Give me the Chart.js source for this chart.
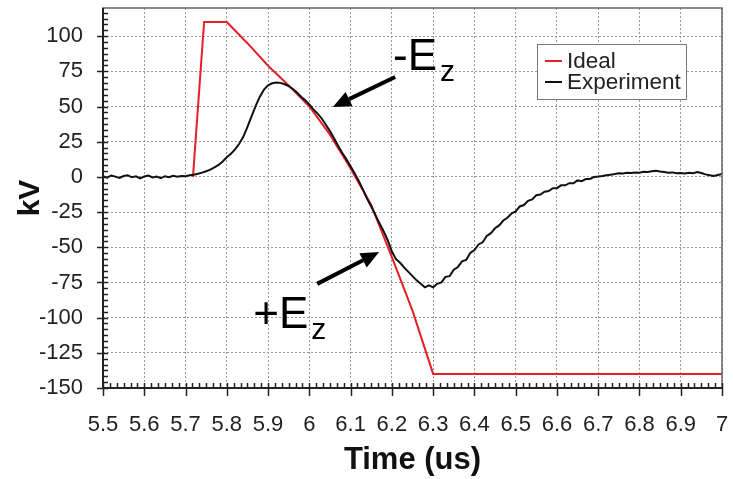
<!DOCTYPE html>
<html>
<head>
<meta charset="utf-8">
<script src="https://cdn.jsdelivr.net/npm/chart.js@4/dist/chart.umd.min.js"></script>
<style>
    html, body { margin: 0; padding: 0; background: #fff; }
    #wrap { width: 733px; height: 479px; }
</style>
</head>
<body>
<div id="wrap"><canvas id="pulseChart" width="733" height="479"></canvas></div>
<script>
// tick labels
const xTicks = [5.5, 5.6, 5.7, 5.8, 5.9, 6, 6.1, 6.2, 6.3, 6.4, 6.5, 6.6, 6.7, 6.8, 6.9, 7];
const yTicks = [-150, -125, -100, -75, -50, -25, 0, 25, 50, 75, 100];

// ideal waveform (us, kV)
const idealTime = [5.718, 5.745, 5.8, 5.85, 5.9, 5.95, 6.0, 6.05, 6.1, 6.15, 6.2, 6.25, 6.3, 7.0];
const idealKV = [0, 110, 110, 95, 79, 65, 50, 30, 6, -20, -57, -95, -140, -140];

// measured waveform, sampled every 0.01 us from 5.5 us
const expStart = 5.5;
const expStep = 0.01;
const expKV = [
    0.5, -0.5, 1.0, 0.2, -0.8, 0.6, 1.2, -0.3, 0.4, -1.0,
    0.3, 0.9, -0.4, 0.2, -0.9, 0.5, -0.2, 0.8, 0.1, 0.6,
    0.4, 1.2, 1.5, 2.2, 3.0, 4.0, 5.2, 6.8, 8.5, 11.0,
    14.0, 16.5, 19.5, 23.5, 28.5, 35.5, 43.0, 50.5, 57.0, 62.0,
    65.0, 66.5, 67.0, 66.8, 65.8, 64.5, 62.5, 60.0, 57.0, 54.5,
    51.5, 48.0, 45.0, 41.5, 37.0, 32.5, 27.5, 22.0, 17.0, 12.5,
    7.5, 2.5, -3.0, -9.0, -15.5, -21.0, -27.0, -33.0, -38.5, -45.0,
    -53.0, -58.5, -61.0, -64.5, -67.5, -70.5, -73.5, -76.0, -78.5, -77.0,
    -78.5, -76.0, -75.0, -71.0, -70.5, -66.0, -64.0, -60.0, -59.0, -54.0,
    -52.0, -48.0, -46.5, -42.0, -40.0, -36.5, -34.5, -31.0, -29.0, -26.0,
    -24.5, -21.0, -20.0, -17.0, -16.0, -13.0, -12.5, -10.5, -10.0, -8.0,
    -8.0, -6.0, -6.0, -4.5, -4.5, -2.5, -3.0, -1.5, -1.5, 0.0,
    0.2, 0.6, 1.2, 1.6, 2.0, 2.6, 2.4, 3.0, 2.8, 3.2,
    3.0, 3.6, 3.4, 4.0, 4.4, 3.8, 3.4, 3.0, 3.2, 2.6,
    2.8, 2.4, 3.0, 2.6, 3.4, 2.8, 1.8, 1.2, 0.6, 1.4,
    2.0
];

// call-outs, anchored in data units
const callouts = [
    { text: '-E', sub: 'z', t: 6.203, kv: 76, arrowFrom: [6.208, 71], arrowTo: [6.057, 49.7] },
    { text: '+E', sub: 'z', t: 5.864, kv: -107.4, arrowFrom: [6.019, -76], arrowTo: [6.169, -53.4] }
];

const FONT = '"Liberation Sans", Arial, sans-serif';

function line(ctx, x1, y1, x2, y2) {
    ctx.beginPath();
    ctx.moveTo(x1, y1);
    ctx.lineTo(x2, y2);
    ctx.stroke();
}

const decorations = {
    id: 'decorations',
    afterDraw(chart) {
        const { ctx, chartArea: a, scales: { x, y } } = chart;
        ctx.save();

        // frame
        ctx.strokeStyle = '#666';
        ctx.lineWidth = 1.5;
        ctx.strokeRect(a.left, a.top, a.right - a.left, a.bottom - a.top);
        ctx.strokeStyle = '#222';
        ctx.lineWidth = 2;
        line(ctx, a.left, a.top, a.left, a.bottom);
        line(ctx, a.left, a.bottom, a.right, a.bottom);

        // y ticks: major cross the axis, minor inside
        ctx.lineWidth = 1.5;
        const yStep = (yTicks[1] - yTicks[0]) / 6;
        for (let v = yTicks[0]; v <= y.max + 0.01; v += yStep) {
            const py = Math.round(y.getPixelForValue(v)) + 0.5;
            const major = yTicks.some(t => Math.abs(t - v) < 0.01);
            line(ctx, major ? a.left - 6 : a.left, py, a.left + 5, py);
        }
        // x ticks: major cross the axis, minor inside
        const xStep = (xTicks[1] - xTicks[0]) / 6;
        for (let v = xTicks[0]; v <= x.max + 0.001; v += xStep) {
            const px = Math.round(x.getPixelForValue(v)) + 0.5;
            const major = xTicks.some(t => Math.abs(t - v) < 0.001);
            line(ctx, px, a.bottom - 5, px, major ? a.bottom + 8 : a.bottom);
        }

        // call-outs
        ctx.fillStyle = '#000';
        ctx.strokeStyle = '#000';
        callouts.forEach(c => {
            const x1 = x.getPixelForValue(c.arrowFrom[0]);
            const y1 = y.getPixelForValue(c.arrowFrom[1]);
            const x2 = x.getPixelForValue(c.arrowTo[0]);
            const y2 = y.getPixelForValue(c.arrowTo[1]);
            const ang = Math.atan2(y2 - y1, x2 - x1);
            const head = 18;
            const bx = x2 - head * Math.cos(ang);
            const by = y2 - head * Math.sin(ang);
            ctx.lineWidth = 4;
            line(ctx, x1, y1, bx, by);
            ctx.beginPath();
            ctx.moveTo(x2, y2);
            ctx.lineTo(bx + 8 * Math.sin(ang), by - 8 * Math.cos(ang));
            ctx.lineTo(bx - 8 * Math.sin(ang), by + 8 * Math.cos(ang));
            ctx.closePath();
            ctx.fill();

            const tx = x.getPixelForValue(c.t);
            const ty = y.getPixelForValue(c.kv);
            ctx.textBaseline = 'alphabetic';
            ctx.textAlign = 'left';
            ctx.font = '44px ' + FONT;
            ctx.fillText(c.text, tx, ty);
            const w = ctx.measureText(c.text).width;
            ctx.font = '30px ' + FONT;
            ctx.fillText(c.sub, tx + w + 3, ty + 11);
        });

        // legend box
        const lw = 149, lh = 55;
        const lx = a.right - 36 - lw, ly = a.top + 36;
        ctx.fillStyle = '#fff';
        ctx.fillRect(lx, ly, lw, lh);
        ctx.strokeStyle = '#777';
        ctx.lineWidth = 1;
        ctx.strokeRect(lx + 0.5, ly + 0.5, lw, lh);
        ctx.font = '22.5px ' + FONT;
        ctx.textBaseline = 'middle';
        chart.data.datasets.forEach((ds, i) => {
            const rowY = ly + 17 + i * 21;
            ctx.strokeStyle = ds.borderColor;
            ctx.lineWidth = 2;
            line(ctx, lx + 8, rowY, lx + 25, rowY);
            ctx.fillStyle = '#222';
            ctx.fillText(ds.label, lx + 30, rowY + 1);
        });

        ctx.restore();
    }
};

new Chart(document.getElementById('pulseChart'), {
    type: 'line',
    data: {
        datasets: [{
            label: 'Ideal',
            data: idealTime.map((t, i) => ({ x: t, y: idealKV[i] })),
            borderColor: 'rgb(230, 30, 38)',
            borderWidth: 2,
            pointRadius: 0,
            tension: 0,
            order: 1
        }, {
            label: 'Experiment',
            data: expKV.map((v, i) => ({ x: expStart + i * expStep, y: v })),
            borderColor: '#111',
            borderWidth: 2,
            pointRadius: 0,
            tension: 0,
            order: 0
        }]
    },
    options: {
        responsive: false,
        animation: false,
        devicePixelRatio: 1,
        layout: { padding: { top: 8, right: 11, left: 0, bottom: 0 } },
        plugins: { legend: { display: false }, tooltip: { enabled: false } },
        scales: {
            x: {
                type: 'linear',
                min: 5.5,
                max: 7,
                afterBuildTicks: s => { s.ticks = xTicks.map(v => ({ value: v })); },
                afterFit: s => {
                    s.height = 91;
                    s.paddingLeft = 0; s.paddingRight = 0;
                    s.paddingTop = 0; s.paddingBottom = 0;
                },
                ticks: {
                    autoSkip: false,
                    maxRotation: 0,
                    padding: 24,
                    color: '#222',
                    font: { family: FONT, size: 22 },
                    callback: v => String(v)
                },
                grid: { color: '#9a9a9a', lineWidth: 1, drawTicks: false },
                border: { display: false, dash: [2, 2] },
                title: {
                    display: true,
                    text: 'Time (us)',
                    color: '#111',
                    font: { family: FONT, size: 31, weight: 'bold' },
                    padding: { top: 0, bottom: 0 }
                }
            },
            y: {
                min: -150,
                max: 120,
                afterBuildTicks: s => { s.ticks = yTicks.map(v => ({ value: v })); },
                afterFit: s => {
                    s.width = 103;
                    s.paddingLeft = 0; s.paddingRight = 0;
                    s.paddingTop = 0; s.paddingBottom = 0;
                },
                ticks: {
                    padding: 20,
                    color: '#222',
                    font: { family: FONT, size: 22 }
                },
                grid: { color: '#9a9a9a', lineWidth: 1, drawTicks: false },
                border: { display: false, dash: [2, 2] },
                title: {
                    display: true,
                    text: 'kV',
                    color: '#111',
                    font: { family: FONT, size: 30, weight: 'bold' },
                    padding: { top: 13, bottom: 0 }
                }
            }
        }
    },
    plugins: [decorations]
});
</script>
</body>
</html>
